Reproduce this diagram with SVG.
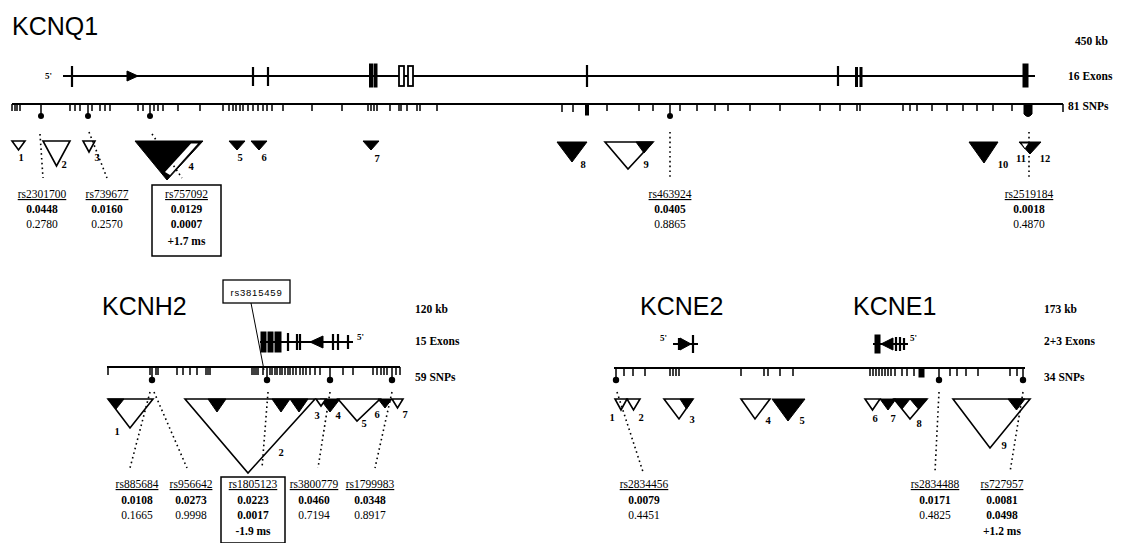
<svg xmlns="http://www.w3.org/2000/svg" width="1129" height="543" viewBox="0 0 1129 543">
<style>
.title{font-family:"Liberation Sans",Arial,sans-serif;font-size:25px;fill:#000}
.side{font-family:"Liberation Serif","Times New Roman",serif;font-size:11.5px;font-weight:bold;fill:#000}
.p5{font-family:"Liberation Serif","Times New Roman",serif;font-size:9px;font-weight:bold;fill:#000}
.num{font-family:"Liberation Serif","Times New Roman",serif;font-size:10.5px;font-weight:bold;fill:#000;text-anchor:middle}
.rs{font-family:"Liberation Serif","Times New Roman",serif;font-size:11.5px;fill:#000;text-anchor:middle;text-decoration:underline}
.vb{font-family:"Liberation Serif","Times New Roman",serif;font-size:11.5px;font-weight:bold;fill:#000;text-anchor:middle}
.vn{font-family:"Liberation Serif","Times New Roman",serif;font-size:11.5px;fill:#000;text-anchor:middle}
.ln{stroke:#000;stroke-width:2;fill:none}
.tk{stroke:#000;stroke-width:1.5;fill:none}
.ex{stroke:#000;stroke-width:2.2;fill:none}
.op{fill:#fff;stroke:#000;stroke-width:1.6;stroke-linejoin:miter}
.fl{fill:#000;stroke:#000;stroke-width:1}
.dot{stroke:#000;stroke-width:1.6;stroke-dasharray:1.6 3.2;fill:none}
.box{fill:none;stroke:#000;stroke-width:1.5}
</style>

<!-- ================= KCNQ1 ================= -->
<g id="kcnq1">
  <text class="title" x="12" y="35">KCNQ1</text>
  <text class="side" x="1075" y="45">450 kb</text>
  <text class="side" x="1068" y="80">16 Exons</text>
  <text class="side" x="1068" y="110">81 SNPs</text>
  <!-- exon line -->
  <text class="p5" x="45" y="79">5'</text>
  <line class="ln" x1="63" y1="76" x2="1035" y2="76"/>
  <path class="ex" d="M72 66V87M253 67V86M268 67V86M587 65V87M838 66V86"/>
  <polygon class="fl" points="127,71 138,76 127,81"/>
  <rect class="fl" x="369.5" y="64" width="3" height="23"/><rect class="fl" x="374" y="64" width="3" height="23"/>
  <rect x="399" y="66" width="5" height="20" fill="#fff" stroke="#000" stroke-width="1.8"/>
  <rect x="408" y="66" width="5" height="20" fill="#fff" stroke="#000" stroke-width="1.8"/>
  <rect x="855" y="67" width="3" height="20" fill="#000"/><rect x="859.5" y="67" width="3" height="20" fill="#000"/>
  <rect class="fl" x="1023" y="64" width="5" height="23"/>
  <!-- SNP line -->
  <line class="ln" x1="12" y1="104" x2="1063" y2="104"/>
  <path class="tk" d="M12 104v7M15 104v7M17 104v7M20 104v7M70 104v7M75 104v7M80 104v7M92 104v7M100 104v7M105 104v7M110 104v7M138 104v7M143 104v7M154 104v7M158 104v7M163 104v7M178 104v7M200 104v7M223 104v7M229 104v7M233 104v7M236 104v7M240 104v7M243 104v7M248 104v7M253 104v7M258 104v7M263 104v7M267 104v7M272 104v7M283 104v7M312 104v7M342 104v7M368 104v7M371 104v7M374 104v7M377 104v7M390 104v7M399 104v7M401 104v7M407 104v7M417 104v7M420 104v7M437 104v7M562 104v8M573 104v8M607 104v7M639 104v7M653 104v7M680 104v7M697 104v7M715 104v7M728 104v7M750 104v7M780 104v7M820 104v7M840 104v7M857 104v7M860 104v7M903 104v7M910 104v7M917 104v7M932 104v7M947 104v7M963 104v7M977 104v7M993 104v7M1012 104v7M1063 104v8"/>
  <rect class="fl" x="585.5" y="104" width="3" height="11"/>
  <path class="fl" d="M1024 104h8v10q-4 5-8 0z"/>
  <path class="tk" d="M41 104v11M88 104v11M150 104v11M670 104v11"/>
  <circle cx="41" cy="116" r="3"/><circle cx="88" cy="116" r="3"/><circle cx="150" cy="116" r="3"/><circle cx="670" cy="116" r="3"/>
</g>

<g id="kcnq1-blocks">
  <polygon class="op" points="12,141 25,141 18.5,150"/><text class="num" x="21" y="161">1</text>
  <polygon class="op" points="43,141 70,141 56.5,166"/><text class="num" x="64" y="168">2</text>
  <polygon class="op" points="83,141 95,141 89,152"/><text class="num" x="97" y="161">3</text>
  <polygon class="fl" points="135,141 203,141 167,180"/>
  <polygon fill="#fff" points="191,143.5 198,143.5 170,175 165,172"/>
  <text class="num" x="191" y="170">4</text>
  <polygon class="fl" points="229,141 245,141 237,150"/><text class="num" x="240" y="161">5</text>
  <polygon class="fl" points="251,141 267,141 259,150"/><text class="num" x="264" y="161">6</text>
  <polygon class="fl" points="363,141 379,141 371,150"/><text class="num" x="377" y="162">7</text>
  <polygon class="fl" points="557,142 587,142 572,162"/><text class="num" x="583" y="168">8</text>
  <polygon class="op" points="605,142 653,142 628,169"/>
  <polygon class="fl" points="636,142 653,142 644,153"/><text class="num" x="646" y="168">9</text>
  <polygon class="fl" points="969,142 998,142 984,163"/><text class="num" x="1003" y="168">10</text>
  <polygon class="fl" points="1019,142 1041,142 1030,154"/>
  <polygon fill="#fff" stroke="#000" stroke-width="1" points="1021,143 1029,143 1025,149"/>
  <text class="num" x="1021" y="162">11</text><text class="num" x="1045" y="162">12</text>
</g>

<g id="kcnq1-labels">
  <g id="rs2301700"><text class="rs" x="42" y="198">rs2301700</text><text class="vb" x="42" y="213">0.0448</text><text class="vn" x="42" y="228">0.2780</text></g>
  <g id="rs739677"><text class="rs" x="107" y="198">rs739677</text><text class="vb" x="107" y="213">0.0160</text><text class="vn" x="107" y="228">0.2570</text></g>
  <g id="rs757092"><rect class="box" x="152" y="185" width="69" height="71"/><text class="rs" x="186.5" y="198">rs757092</text><text class="vb" x="186.5" y="213">0.0129</text><text class="vb" x="186.5" y="228">0.0007</text><text class="vb" x="186.5" y="245">+1.7 ms</text></g>
  <g id="rs463924"><text class="rs" x="670" y="198">rs463924</text><text class="vb" x="670" y="213">0.0405</text><text class="vn" x="670" y="228">0.8865</text></g>
  <g id="rs2519184"><text class="rs" x="1029" y="198">rs2519184</text><text class="vb" x="1029" y="213">0.0018</text><text class="vn" x="1029" y="228">0.4870</text></g>
</g>

<!-- ================= KCNH2 ================= -->
<g id="kcnh2">
  <text class="title" x="102" y="315">KCNH2</text>
  <text class="side" x="415" y="313">120 kb</text>
  <text class="side" x="415" y="345">15 Exons</text>
  <text class="side" x="415" y="381">59 SNPs</text>
  <line class="ln" x1="260" y1="342" x2="353" y2="342"/>
  <rect class="fl" x="261" y="332" width="5" height="20"/><rect class="fl" x="268" y="332" width="5" height="20"/><rect class="fl" x="275" y="332" width="6" height="20"/>
  <path class="ex" d="M288 333V351M297 334V350M300 334V350M333 334V350M338 334V350M348 335V349"/>
  <polygon class="fl" points="310,342 323,336 323,348"/>
  <text class="p5" x="357" y="340">5'</text>
  <line class="ln" x1="107" y1="367" x2="400" y2="367"/>
  <path class="tk" d="M108 367v8M150 367v8M156 367v8M158 367v8M177 367v8M183 367v8M190 367v8M197 367v8M206 367v8M208 367v8M210 367v8M252 367v8M254 367v8M256 367v8M258 367v8M263 367v8M270 367v8M272 367v8M275 367v8M277 367v8M280 367v8M282 367v8M285 367v8M288 367v8M290 367v8M293 367v8M296 367v8M300 367v8M303 367v8M306 367v8M310 367v8M315 367v8M320 367v8M343 367v8M353 367v8M373 367v8M377 367v8M381 367v8M384 367v8M387 367v8M396 367v8M400 367v8"/>
  <path class="tk" d="M152 367v11M267 367v11M330 367v11M392 367v11"/>
  <circle cx="152" cy="380" r="3.2"/><circle cx="267" cy="380" r="3.2"/><circle cx="330" cy="380" r="3.2"/><circle cx="392" cy="380" r="3.2"/>
</g>

<g id="rs3815459">
  <rect x="223" y="280" width="67" height="23" fill="#fff" stroke="#000" stroke-width="1.3"/>
  <text x="256.5" y="296" font-family="Liberation Sans,Arial,sans-serif" font-size="9.5" letter-spacing="0.8" text-anchor="middle">rs3815459</text>
</g>

<g id="kcnh2-blocks">
  <polygon class="op" points="108,399 153,399 130,428"/>
  <polygon class="fl" points="108,399 124,399 116,409"/>
  <text class="num" x="117" y="435">1</text>
  <polygon class="op" points="185,399 315,399 248,473"/>
  <polygon class="fl" points="208,399 226,399 217,412"/>
  <polygon class="fl" points="272,399 290,399 281,412"/>
  <polygon class="fl" points="290,399 308,399 299,412"/>
  <text class="num" x="281" y="456">2</text>
  <polygon class="fl" points="320,399 340,399 330,412"/>
  <polygon class="op" points="316,399 326,399 321,406"/>
  <text class="num" x="317" y="419">3</text><text class="num" x="338" y="419">4</text>
  <polygon class="op" points="338,399 380,399 357,421"/><text class="num" x="364" y="427">5</text>
  <polygon class="fl" points="378,399 392,399 385,408"/><text class="num" x="377" y="418">6</text>
  <polygon class="op" points="392,399 403,399 397.5,408"/><text class="num" x="405" y="418">7</text>
</g>

<g id="kcnh2-labels">
  <g id="rs885684"><text class="rs" x="137" y="488">rs885684</text><text class="vb" x="137" y="504">0.0108</text><text class="vn" x="137" y="519">0.1665</text></g>
  <g id="rs956642"><text class="rs" x="191" y="488">rs956642</text><text class="vb" x="191" y="504">0.0273</text><text class="vn" x="191" y="519">0.9998</text></g>
  <g id="rs1805123"><rect class="box" x="221" y="477" width="64" height="66"/><text class="rs" x="253" y="488">rs1805123</text><text class="vb" x="253" y="504">0.0223</text><text class="vb" x="253" y="519">0.0017</text><text class="vb" x="253" y="535">-1.9 ms</text></g>
  <g id="rs3800779"><text class="rs" x="314" y="488">rs3800779</text><text class="vb" x="314" y="504">0.0460</text><text class="vn" x="314" y="519">0.7194</text></g>
  <g id="rs1799983"><text class="rs" x="370" y="488">rs1799983</text><text class="vb" x="370" y="504">0.0348</text><text class="vn" x="370" y="519">0.8917</text></g>
</g>

<!-- ================= KCNE2 / KCNE1 ================= -->
<g id="kcne">
  <text class="title" x="640" y="315">KCNE2</text>
  <text class="title" x="853" y="315">KCNE1</text>
  <text class="side" x="1044" y="313">173 kb</text>
  <text class="side" x="1044" y="345">2+3 Exons</text>
  <text class="side" x="1044" y="381">34 SNPs</text>
  <!-- KCNE2 exons -->
  <text class="p5" x="660" y="341">5'</text>
  <line class="ln" x1="673" y1="344" x2="698" y2="344"/>
  <path class="ex" d="M679 338V350M693 335V353"/>
  <polygon class="fl" points="680,338 691,344 680,350"/>
  <!-- KCNE1 exons -->
  <line class="ln" x1="873" y1="344" x2="908" y2="344"/>
  <rect class="fl" x="875" y="335" width="5" height="18"/>
  <polygon class="fl" points="881,344 893,338 893,350"/>
  <path class="ex" d="M896 337V351M900 337V351M904 338V350"/>
  <text class="p5" x="910" y="341">5'</text>
  <!-- SNP line -->
  <line class="ln" x1="614" y1="368" x2="1025" y2="368"/>
  <path class="tk" d="M624 368v8M633 368v8M645 368v8M670 368v8M673 368v8M676 368v8M679 368v8M741 368v8M764 368v8M768 368v8M780 368v8M793 368v8M870 368v8M873 368v8M876 368v8M879 368v8M882 368v8M885 368v8M888 368v8M891 368v8M895 368v8M902 368v8M907 368v8M914 368v8M950 368v8M957 368v8M966 368v8M978 368v8M1010 368v8M1017 368v8"/>
  <rect class="fl" x="919" y="368" width="5" height="9"/>
  <path class="tk" d="M616 368v10M939 368v10M1023 368v10"/>
  <circle cx="616" cy="380" r="3.2"/><circle cx="939" cy="380" r="3.2"/><circle cx="1023" cy="380" r="3.2"/>
</g>

<g id="kcne-blocks">
  <polygon class="op" points="615,399 627,399 621,410"/><text class="num" x="612" y="421">1</text>
  <polygon class="op" points="627,399 640,399 633.5,410"/><text class="num" x="641" y="421">2</text>
  <polygon class="op" points="664,399 693,399 679,419"/>
  <polygon class="fl" points="680,399 693,399 686.5,409"/><text class="num" x="692" y="423">3</text>
  <polygon class="op" points="741,399 770,399 755,419"/><text class="num" x="768" y="424">4</text>
  <polygon class="fl" points="772,399 805,399 788,421"/><text class="num" x="802" y="424">5</text>
  <polygon class="op" points="865,399 880,399 872.5,410"/><text class="num" x="875" y="422">6</text>
  <polygon class="fl" points="880,399 896,399 888,410"/><text class="num" x="893" y="422">7</text>
  <polygon class="op" points="894,399 927,399 910,419"/>
  <polygon class="fl" points="894,399 910,399 902,409"/>
  <polygon class="fl" points="910,399 927,399 918.5,409"/>
  <text class="num" x="919" y="427">8</text>
  <polygon class="op" points="953,399 1030,399 990,448"/>
  <polygon class="fl" points="1008,399 1025,399 1016.5,410"/>
  <text class="num" x="1004" y="449">9</text>
</g>

<g id="kcne-labels">
  <g id="rs2834456"><text class="rs" x="644" y="488">rs2834456</text><text class="vb" x="644" y="504">0.0079</text><text class="vn" x="644" y="519">0.4451</text></g>
  <g id="rs2834488"><text class="rs" x="935" y="488">rs2834488</text><text class="vb" x="935" y="504">0.0171</text><text class="vn" x="935" y="519">0.4825</text></g>
  <g id="rs727957"><text class="rs" x="1002" y="488">rs727957</text><text class="vb" x="1002" y="504">0.0081</text><text class="vb" x="1002" y="519">0.0498</text><text class="vb" x="1002" y="535">+1.2 ms</text></g>
</g>

<!-- ================= connectors ================= -->
<g id="connectors">
  <line class="dot" x1="40" y1="134" x2="43" y2="178"/>
  <line class="dot" x1="89" y1="132" x2="107" y2="178"/>
  <line class="dot" x1="152" y1="134" x2="182" y2="178"/>
  <line class="dot" x1="670" y1="132" x2="670" y2="178"/>
  <line class="dot" x1="1029" y1="132" x2="1029" y2="178"/>
  <line stroke="#000" stroke-width="1" x1="251" y1="303" x2="264" y2="370"/>
  <line class="dot" x1="150" y1="392" x2="130" y2="468"/>
  <line class="dot" x1="154" y1="392" x2="187" y2="468"/>
  <line class="dot" x1="268" y1="392" x2="262" y2="468"/>
  <line class="dot" x1="330" y1="392" x2="318" y2="468"/>
  <line class="dot" x1="392" y1="392" x2="375" y2="468"/>
  <line class="dot" x1="617" y1="392" x2="643" y2="472"/>
  <line class="dot" x1="939" y1="392" x2="935" y2="472"/>
  <line class="dot" x1="1023" y1="392" x2="1010" y2="472"/>
</g>
</svg>
